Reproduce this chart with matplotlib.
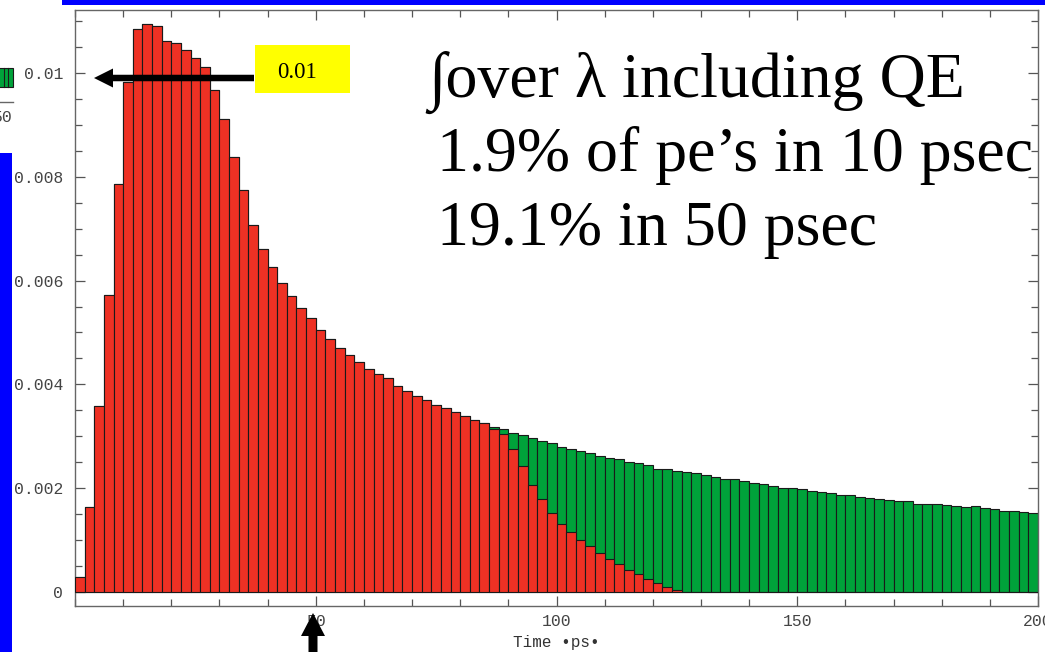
import numpy as np
import matplotlib.pyplot as plt
from matplotlib.patches import Rectangle, FancyArrow
from matplotlib.ticker import MultipleLocator

# ---- histogram contents: 2 ps bins from 0 to 200 ps ----
bin_edges = np.arange(0, 202, 2)

# photo-electron time distribution (red), first 63 bins, zero afterwards
red_vals = [0.00029, 0.00163, 0.00359, 0.00572, 0.00787, 0.00984, 0.01085, 0.01095,
            0.01092, 0.01062, 0.01059, 0.01045, 0.01030, 0.01013, 0.00968, 0.00912,
            0.00839, 0.00774, 0.00708, 0.00661, 0.00626, 0.00595, 0.00570, 0.00547,
            0.00527, 0.00505, 0.00488, 0.00471, 0.00457, 0.00444, 0.00430, 0.00419,
            0.00412, 0.00397, 0.00388, 0.00378, 0.00369, 0.00361, 0.00354, 0.00346,
            0.00338, 0.00332, 0.00325, 0.00314, 0.00305, 0.00275, 0.00242, 0.00206,
            0.00178, 0.00152, 0.00131, 0.00115, 0.00100, 0.00088, 0.00075, 0.00064,
            0.00053, 0.00042, 0.00034, 0.00025, 0.00017, 0.00010, 0.00004]
red_vals = red_vals + [0.0] * (100 - len(red_vals))

# full distribution (green), identical to red up to bin 42
green_tail = [0.00318, 0.00314, 0.00307, 0.00303, 0.00296, 0.00290, 0.00286, 0.00280,
              0.00275, 0.00271, 0.00267, 0.00262, 0.00258, 0.00255, 0.00251, 0.00248,
              0.00244, 0.00237, 0.00237, 0.00232, 0.00230, 0.00228, 0.00225, 0.00221,
              0.00217, 0.00217, 0.00213, 0.00209, 0.00207, 0.00204, 0.00200, 0.00200,
              0.00198, 0.00195, 0.00192, 0.00190, 0.00187, 0.00186, 0.00183, 0.00181,
              0.00179, 0.00177, 0.00175, 0.00175, 0.00170, 0.00170, 0.00169, 0.00167,
              0.00165, 0.00163, 0.00165, 0.00161, 0.00159, 0.00156, 0.00156, 0.00154,
              0.00152]
green_vals = red_vals[:43] + green_tail

x_ticks = [50, 100, 150, 200]
x_ticklabels = ["50", "100", "150", "200"]
y_ticks = [0, 0.002, 0.004, 0.006, 0.008, 0.01]
y_ticklabels = ["0", "0.002", "0.004", "0.006", "0.008", "0.01"]

text_lines = ["\u222Bover \u03BB including QE",
              "1.9% of pe\u2019s in 10 psec",
              "19.1% in 50 psec"]

RED = "#EE3124"
GREEN = "#00A23A"
BLUE = "#0000FF"
MONO = "Liberation Mono"
SERIF = "Liberation Serif"

W, H = 1045, 652
fig = plt.figure(figsize=(W / 100, H / 100), dpi=100)
fig.patch.set_facecolor("white")

ax = fig.add_axes([75 / W, 1 - 605.7 / H, (1038 - 75) / W, (605.7 - 10) / H])
widths = np.diff(bin_edges)
ax.bar(bin_edges[:-1], green_vals, width=widths, align="edge", color=GREEN,
       edgecolor="#1a1a1a", linewidth=0.8, zorder=2)
ax.bar(bin_edges[:-1], red_vals, width=widths, align="edge", color=RED,
       edgecolor="#1a1a1a", linewidth=0.8, zorder=3)

ax.set_xlim(0, 200)
ax.set_ylim(-0.00027, 0.01122)
ax.set_xticks(x_ticks)
ax.set_xticklabels(x_ticklabels)
ax.set_yticks(y_ticks)
ax.set_yticklabels(y_ticklabels)
ax.xaxis.set_minor_locator(MultipleLocator(10))
ax.yaxis.set_minor_locator(MultipleLocator(0.0005))
ax.tick_params(which="both", direction="in", top=True, right=True,
               color="#555555", width=0.9)
ax.tick_params(which="major", length=7)
ax.tick_params(which="minor", length=5)
ax.tick_params(axis="x", pad=6)
ax.tick_params(axis="y", pad=8.5)
for lab in ax.get_xticklabels() + ax.get_yticklabels():
    lab.set_fontfamily(MONO)
    lab.set_fontsize(11.8)
    lab.set_color("#444444")
for sp in ax.spines.values():
    sp.set_color("#666666")
    sp.set_linewidth(1.0)
ax.set_xlabel("Time \u2022ps\u2022", fontfamily=MONO, fontsize=11.5,
              color="#333333", labelpad=4.5)

# ---- slide overlay in pixel coordinates ----
ov = fig.add_axes([0, 0, 1, 1], zorder=10)
ov.set_xlim(0, W)
ov.set_ylim(H, 0)
ov.axis("off")
ov.patch.set_alpha(0)

# blue slide bars
ov.add_patch(Rectangle((62, 0), W - 62, 4.5, color=BLUE, lw=0))
ov.add_patch(Rectangle((0, 153), 12, H - 153, color=BLUE, lw=0))

# pieces of a neighbouring plot at the left edge
ov.add_patch(Rectangle((-2, 68), 14.5, 19, facecolor=GREEN, edgecolor="#1a1a1a", lw=0.8))
for xs in (3.5, 7.5):
    ov.plot([xs, xs], [68, 87], color="#1a1a1a", lw=0.8)
ov.plot([0, 13], [101.5, 101.5], color="#666666", lw=1.0)
ov.text(12, 118, "50", fontfamily=MONO, fontsize=11.8, color="#444444",
        ha="right", va="center")

# yellow label with arrow pointing at the 0.01 tick
ov.add_patch(Rectangle((255, 45), 95, 48, color="#FFFF00", lw=0))
ov.text(297, 72, "0.01", fontfamily=SERIF, fontsize=16.5, color="black",
        ha="center", va="center")
ov.add_patch(FancyArrow(254, 78, -160, 0, width=6.5, head_width=19,
                        head_length=19, length_includes_head=True,
                        color="black", lw=0))

# arrow marking 50 ps on the time axis
ov.add_patch(FancyArrow(313, 660, 0, -47, width=9, head_width=24,
                        head_length=23, length_includes_head=True,
                        color="black", lw=0))

# integrated fractions
for i, line in enumerate(text_lines):
    ov.text(428 if i == 0 else 437, 97 + i * 74, line, fontfamily=SERIF,
            fontsize=46, color="black", ha="left", va="baseline")

fig.savefig("out.png", dpi=100, facecolor="white")
